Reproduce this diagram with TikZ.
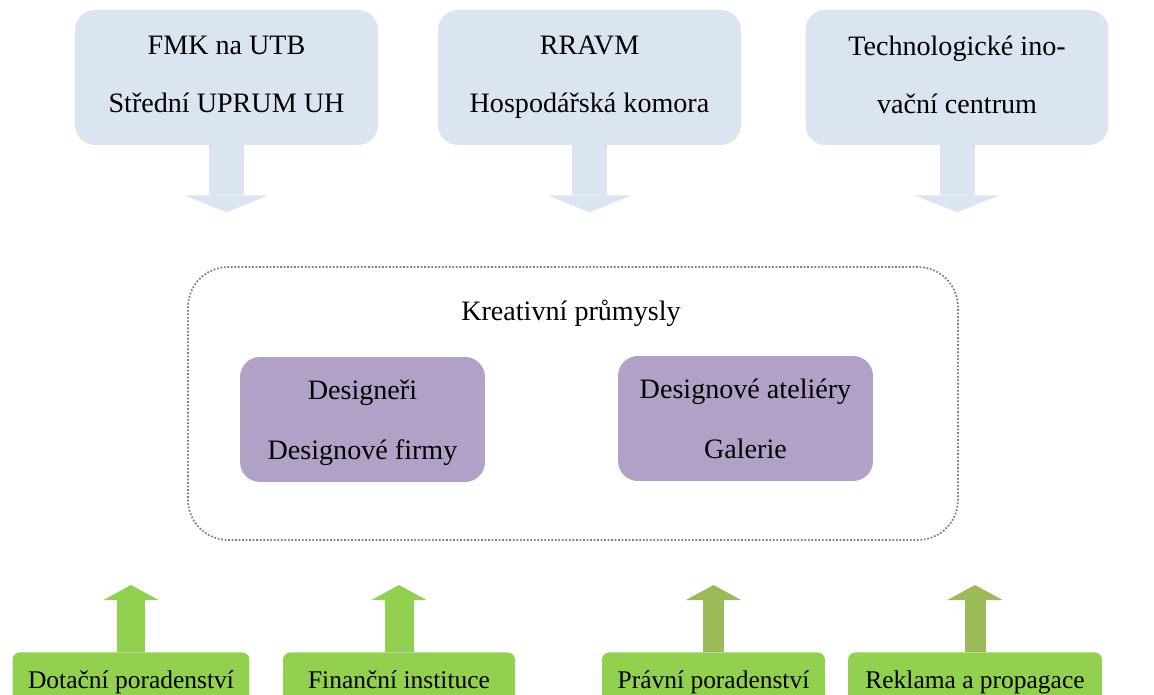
\documentclass[tikz,border=0pt]{standalone}
\usepackage{fontspec}
\setmainfont{Liberation Serif}
\usepackage{tikz, xcolor}
\usetikzlibrary{shapes,arrows.meta}

\definecolor{boxblue}{HTML}{DBE5F1}
\definecolor{boxlila}{HTML}{B2A1C7}
\definecolor{boxgreen}{HTML}{92D050}
\definecolor{olivegreen}{HTML}{9BBB59}

\begin{document}
\begin{tikzpicture}[x=0.02cm, y=-0.02cm]
\tikzstyle{vertext}=[rectangle, rounded corners=0.4cm, fill=boxblue, minimum width=6.06cm, minimum height=2.7cm, align=center, font=\fontsize{16}{33}\selectfont]
\tikzstyle{vertexp}=[rectangle, rounded corners=0.4cm, fill=boxlila, minimum height=2.5cm, align=center, font=\fontsize{16}{34}\selectfont]
\tikzstyle{vertexb}=[rectangle, rounded corners=0.15cm, fill=boxgreen, anchor=north, text height=0.72cm, text depth=0.8cm, inner ysep=0pt, font=\fontsize{14.5}{17}\selectfont]
\tikzstyle{downstyle}=[line width=0.7cm, draw=boxblue, -{Triangle[width=1.68cm, length=0.34cm, line width=0pt]}]
\tikzstyle{upstyle}=[line width=0.58cm, draw=boxgreen, -{Triangle[width=1.1cm, length=0.3cm, line width=0pt]}]
\tikzstyle{upstyleo}=[upstyle, line width=0.42cm, draw=olivegreen]

\path[use as bounding box, clip] (0,0) rectangle (1154,695);
\fill[white] (0,0) rectangle (1154,695);

% top row
\node[vertext] (T1) at (226.5,77.5) {FMK na UTB\\Střední UPRUM UH\vphantom{p}};
\node[vertext] (T2) at (589.5,77.5) {RRAVM\\Hospodářská komora};
\node[vertext] (T3) at (957,77.5) {Technologické ino-\\vační centrum\vphantom{p}};
\coordinate (T1a) at ([yshift=-1.34cm]T1.south);
\coordinate (T2a) at ([yshift=-1.34cm]T2.south);
\coordinate (T3a) at ([yshift=-1.34cm]T3.south);
\draw[downstyle] (T1.south) -- (T1a);
\draw[downstyle] (T2.south) -- (T2a);
\draw[downstyle] (T3.south) -- (T3a);

% creative industries
\node[rectangle, rounded corners=0.8cm, draw=gray, densely dotted, line width=1pt, minimum width=15.4cm, minimum height=5.46cm] (KP) at (573,403.5) {};
\node[font=\fontsize{16}{19}\selectfont] (KPt) at (571,313) {Kreativní průmysly};
\node[vertexp, minimum width=4.9cm] (P1) at (362.5,419.5) {Designeři\\\raisebox{0pt}[\height][0pt]{Designové firmy}};
\node[vertexp, minimum width=5.1cm] (P2) at (745.5,418.5) {Designové ateliéry\\Galerie};

% bottom row
\node[vertexb, minimum width=4.74cm] (B1) at (131,652) {Dotační poradenství};
\node[vertexb, minimum width=4.64cm] (B2) at (399,652) {Finanční instituce};
\node[vertexb, minimum width=4.46cm] (B3) at (713.5,652) {Právní poradenství};
\node[vertexb, minimum width=5.08cm] (B4) at (975,652) {Reklama a propagace};
\coordinate (B1a) at ([yshift=1.34cm]B1.north);
\coordinate (B2a) at ([yshift=1.34cm]B2.north);
\coordinate (B3a) at ([yshift=1.34cm]B3.north);
\coordinate (B4a) at ([yshift=1.34cm]B4.north);
\draw[upstyle] (B1.north) -- (B1a);
\draw[upstyle] (B2.north) -- (B2a);
\draw[upstyleo] (B3.north) -- (B3a);
\draw[upstyleo] (B4.north) -- (B4a);
\end{tikzpicture}
\end{document}
